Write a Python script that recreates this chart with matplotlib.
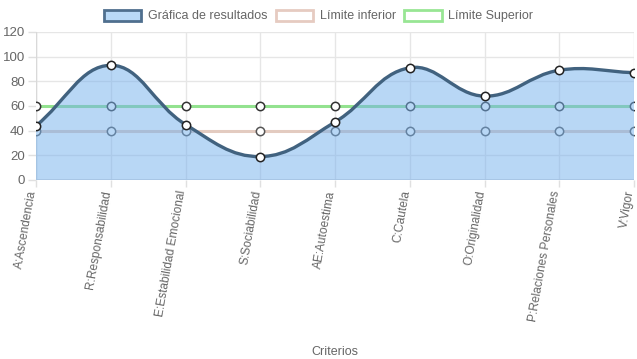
import matplotlib
matplotlib.use("Agg")
import matplotlib.pyplot as plt
from matplotlib.path import Path
from matplotlib.patches import PathPatch, Patch
import numpy as np

plt.rcParams['font.family'] = ['Liberation Sans', 'DejaVu Sans']

criterios = ['A:Ascendencia', 'R:Responsabilidad', 'E:Estabilidad Emocional',
             'S:Sociabilidad', 'AE:Autoestima', 'C:Cautela', 'O:Originalidad',
             'P:Relaciones Personales', 'V:Vigor']
resultados = [44, 93, 45, 19, 47, 91, 68, 89, 87]
limite_inferior = [40, 40, 40, 40, 40, 40, 40, 40, 40]
limite_superior = [60, 60, 60, 60, 60, 60, 60, 60, 60]

fig = plt.figure(figsize=(6.37, 3.59), dpi=100)
ax = fig.add_axes([36/637, 1-180/359, 598/637, 148/359])
x = np.arange(len(criterios))
ax.set_xlim(0, len(criterios)-1)
ax.set_ylim(0, 120)

# spline like chart.js (tension 0.4), distances measured in pixels
def spline_path(xs, ys, t=0.4):
    sx = 598/(len(xs)-1)
    sy = 148/120
    px = np.array(xs, float)*sx
    py = np.array(ys, float)*sy
    n = len(px)
    c1 = []
    c2 = []
    for i in range(n):
        prev = (px[max(i-1, 0)], py[max(i-1, 0)])
        nxt = (px[min(i+1, n-1)], py[min(i+1, n-1)])
        cur = (px[i], py[i])
        d01 = np.hypot(cur[0]-prev[0], cur[1]-prev[1])
        d12 = np.hypot(nxt[0]-cur[0], nxt[1]-cur[1])
        tot = d01 + d12
        s01 = d01/tot if tot else 0
        s12 = d12/tot if tot else 0
        fa, fb = t*s01, t*s12
        c1.append((cur[0]-fa*(nxt[0]-prev[0]), cur[1]-fa*(nxt[1]-prev[1])))
        c2.append((cur[0]+fb*(nxt[0]-prev[0]), cur[1]+fb*(nxt[1]-prev[1])))
    verts = [(px[0], py[0])]
    codes = [Path.MOVETO]
    for i in range(1, n):
        verts += [c2[i-1], c1[i], (px[i], py[i])]
        codes += [Path.CURVE4]*3
    verts = [(a/sx, b/sy) for a, b in verts]
    return verts, codes

# limits
ax.plot(x, limite_inferior, color='#e3cbc0', lw=2.2, zorder=2)
ax.plot(x, limite_inferior, 'o', ms=6, mfc='white', mec='#555', mew=1.1, zorder=2.5)
ax.plot(x, limite_superior, color='#93e28f', lw=2.2, zorder=3)
ax.plot(x, limite_superior, 'o', ms=6, mfc='white', mec='#333', mew=1.1, zorder=3.5)

verts, codes = spline_path(x, resultados)
fill_verts = verts + [(x[-1], 0), (x[0], 0), verts[0]]
fill_codes = codes + [Path.LINETO, Path.LINETO, Path.CLOSEPOLY]
ax.add_patch(PathPatch(Path(fill_verts, fill_codes), facecolor=(0.45, 0.69, 0.93, 0.5),
                       edgecolor='none', zorder=4))
ax.add_patch(PathPatch(Path(verts, codes), facecolor='none', edgecolor='#41627f',
                       lw=2.4, zorder=5))
ax.plot(x, resultados, 'o', ms=6, mfc='white', mec='#222', mew=1.1, zorder=6)

ax.set_yticks(range(0, 121, 20))
ax.set_xticks(x)
ax.set_xticklabels(criterios, rotation=80, ha='right', va='baseline', rotation_mode='anchor',
                   fontsize=8.6)
ax.grid(True, color='#e6e6e6', lw=1)
ax.set_axisbelow(True)
for s in ax.spines.values():
    s.set_visible(False)
ax.axhline(0, color='#d9d9d9', lw=1.2, zorder=1)
ax.axvline(0, color='#d9d9d9', lw=1, zorder=1)
ax.tick_params(axis='both', colors='#666', labelsize=9.5, length=5, width=1)
ax.tick_params(axis='x', color='#e0e0e0', pad=3, labelsize=8.6)
ax.tick_params(axis='y', color='#e0e0e0', length=6, pad=2)
ax.set_xlabel('Criterios', color='#666', fontsize=9)
ax.xaxis.set_label_coords(0.5, -1.12)

handles = [Patch(facecolor='#b9d9f7', edgecolor='#4f6f8e', lw=2),
           Patch(facecolor='white', edgecolor='#e6cbc1', lw=2),
           Patch(facecolor='white', edgecolor='#98e694', lw=2)]
leg = fig.legend(handles, ['Gráfica de resultados', 'Límite inferior', 'Límite Superior'],
                 loc='center', bbox_to_anchor=(0.5, 1-16/359), ncol=3, frameon=False,
                 fontsize=9, handlelength=3.0, handleheight=1.0, columnspacing=0.7,
                 handletextpad=0.5)
for tx in leg.get_texts():
    tx.set_color('#666')

fig.savefig('out.png', dpi=100)
